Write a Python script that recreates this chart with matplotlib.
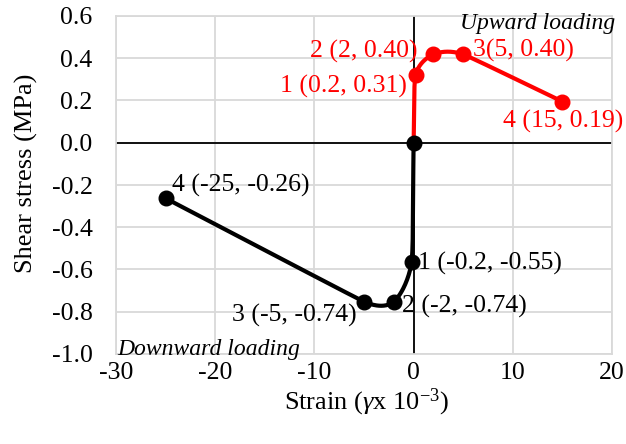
import matplotlib
matplotlib.use("Agg")
import matplotlib.pyplot as plt
import numpy as np

plt.rcParams['font.family'] = ['Liberation Serif', 'DejaVu Serif']
plt.rcParams['mathtext.fontset'] = 'custom'
plt.rcParams['mathtext.it'] = 'Liberation Serif:italic'
plt.rcParams['mathtext.rm'] = 'Liberation Serif'

# upward loading (red)
up_strain = [0.0, 0.2, 2.0, 5.0, 15.0]
up_stress = [0.0, 0.32, 0.418, 0.418, 0.195]
up_labels = ["", "1 (0.2, 0.31)", "2 (2, 0.40)", "3(5, 0.40)", "4 (15, 0.19)"]

# downward loading (black)
down_strain = [0.0, -0.2, -2.0, -5.0, -25.0]
down_stress = [0.0, -0.563, -0.752, -0.752, -0.263]
down_labels = ["", "1 (-0.2, -0.55)", "2 (-2, -0.74)", "3 (-5, -0.74)", "4 (-25, -0.26)"]

x_ticks = [-30, -20, -10, 0, 10, 20]
y_ticks = [-1.0, -0.8, -0.6, -0.4, -0.2, 0.0, 0.2, 0.4, 0.6]

W, H = 626, 444


def smooth(ax, xs, ys, n=40, k=0.35):
    """Smoothed line through the points, Bezier in display space."""
    pts = ax.transData.transform(np.column_stack([xs, ys]))
    seglen = np.linalg.norm(np.diff(pts, axis=0), axis=1)
    out = []
    for i in range(len(pts) - 1):
        p0 = pts[i - 1] if i > 0 else pts[i]
        p1, p2 = pts[i], pts[i + 1]
        p3 = pts[i + 2] if i + 2 < len(pts) else pts[i + 1]
        L = seglen[i]
        L1 = min(L, seglen[i - 1]) if i > 0 else L
        L2 = min(L, seglen[i + 1]) if i + 1 < len(seglen) else L
        t1 = (p2 - p0) / np.linalg.norm(p2 - p0)
        t2 = (p3 - p1) / np.linalg.norm(p3 - p1)
        c1 = p1 + t1 * L1 * k
        c2 = p2 - t2 * L2 * k
        t = np.linspace(0, 1, n)[:, None]
        seg = ((1 - t) ** 3) * p1 + 3 * ((1 - t) ** 2) * t * c1 + 3 * (1 - t) * t ** 2 * c2 + t ** 3 * p2
        out.append(seg)
    out = np.vstack(out)
    return ax.transData.inverted().transform(out)


def ftext(x, y, s, **kw):
    fig.text(x / W, 1 - y / H, s, **kw)


fig = plt.figure(figsize=(W / 100, H / 100), dpi=100)
ax = fig.add_axes([116 / W, 90 / H, 496 / W, 338 / H])
ax.set_xlim(-30, 20)
ax.set_ylim(-1.0, 0.6)
ax.set_xticks(x_ticks)
ax.set_yticks(y_ticks)
ax.set_xticklabels([f"{v:d}" for v in x_ticks])
ax.set_yticklabels([f"{v:.1f}" for v in y_ticks])
ax.tick_params(length=0, labelsize=18.5)
ax.tick_params(axis='x', pad=6)
ax.tick_params(axis='y', pad=17)
ax.grid(True, color='#d9d9d9', linewidth=1.3)
ax.set_axisbelow(True)
for s in ax.spines.values():
    s.set_color('#d9d9d9')
    s.set_linewidth(1.3)

ax.axhline(0, color='black', linewidth=1.3, zorder=2)
ax.axvline(0, color='black', linewidth=1.3, zorder=2)

fig.canvas.draw()
red = smooth(ax, up_strain, up_stress)
blk = smooth(ax, down_strain, down_stress)
ax.plot(red[:, 0], red[:, 1], color='#ff0000', linewidth=3, zorder=3, solid_capstyle='round')
ax.plot(blk[:, 0], blk[:, 1], color='black', linewidth=3, zorder=3, solid_capstyle='round')
ax.plot(up_strain[1:], up_stress[1:], 'o', color='#ff0000', markersize=10.5, zorder=4)
ax.plot(down_strain, down_stress, 'o', color='black', markersize=10.5, zorder=5)

# point labels
up_pos = [None, (407, 86, 'right'), (417, 51, 'right'), (473, 50, 'left'), (623, 121, 'right')]
down_pos = [None, (418, 263, 'left'), (402, 306, 'left'), (357, 315, 'right'), (172, 185, 'left')]
for lab, pos in zip(up_labels, up_pos):
    if pos:
        ftext(pos[0], pos[1], lab, color='#ff0000', fontsize=18.5, ha=pos[2], va='center')
for lab, pos in zip(down_labels, down_pos):
    if pos:
        ftext(pos[0], pos[1], lab, color='black', fontsize=18.5, ha=pos[2], va='center')

ftext(615, 24, "Upward loading", fontsize=17, style='italic', ha='right', va='center')
ftext(117, 349, "Downward loading", fontsize=17, style='italic', ha='left', va='center')

ftext(367, 402, r"Strain ($\gamma$x 10$^{\mathrm{-3}}$)", fontsize=19, ha='center', va='center')
ftext(26, 173, "Shear stress (MPa)", fontsize=19, rotation=90, ha='center', va='center')

fig.savefig("out.png", dpi=100)
